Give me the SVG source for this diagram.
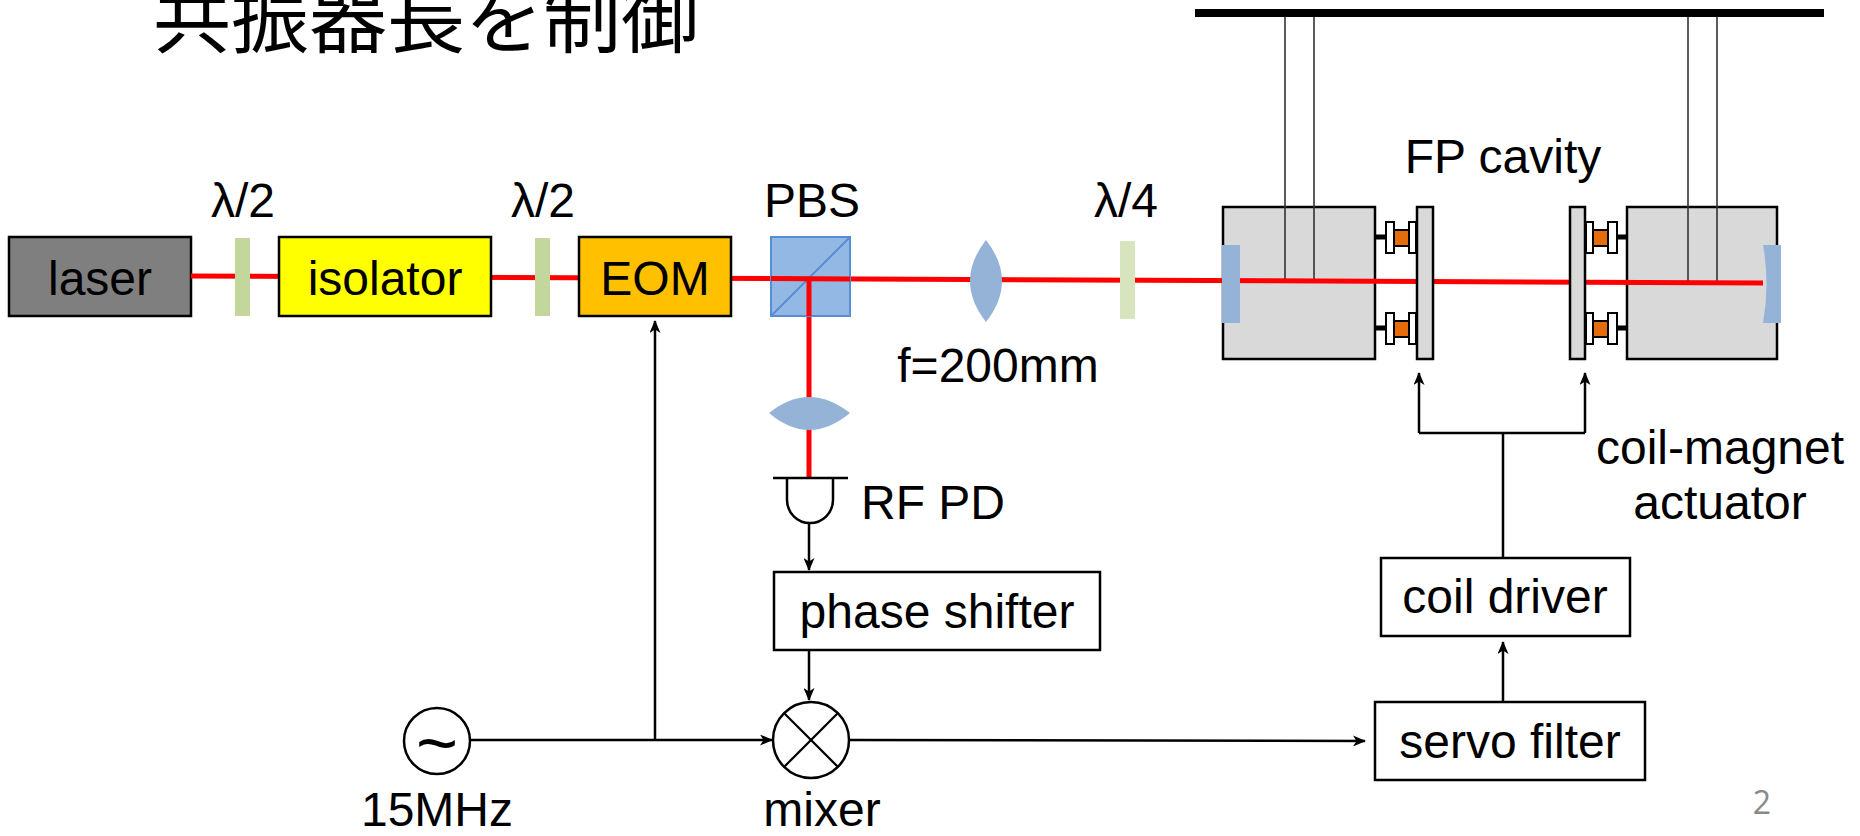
<svg xmlns="http://www.w3.org/2000/svg" width="1860" height="836" viewBox="0 0 1860 836">
<defs>
<style>
.t{font-family:"Liberation Sans",Arial,sans-serif;font-size:48px;fill:#000}
.m{text-anchor:middle}
.box{stroke:#000;stroke-width:2.5}
.gray{fill:#d9d9d9;stroke:#000;stroke-width:2.5}
.wh{fill:#fff;stroke:#000;stroke-width:2}
.or{fill:#e46c0a;stroke:#000;stroke-width:2}
.stub{stroke:#000;stroke-width:5}
.wire{stroke:#333;stroke-width:1.6}
.beam{stroke:#ff0000;stroke-width:5;fill:none}
.optic{fill:#95b3d7}
.con{stroke:#000;stroke-width:2.5;fill:none}
</style>
<marker id="ah" viewBox="0 0 13 11" refX="12" refY="5.5" markerWidth="13" markerHeight="11" markerUnits="userSpaceOnUse" orient="auto">
<path d="M0,0 L13,5.5 L0,11 L3.5,5.5 Z" fill="#000"/>
</marker>
</defs>
<rect width="1860" height="836" fill="#fff"/>

<g id="title">
<text x="153" y="47" style="font-family:'Noto Sans CJK JP','Noto Sans CJK SC',sans-serif;font-size:78px;fill:#000">共振器長を制御</text>
</g>

<g id="suspension">
<rect x="1195" y="9" width="629" height="8" fill="#000"/>
</g>

<g id="cavity-blocks">
<rect class="gray" x="1223" y="207" width="152" height="152"/>
<rect class="gray" x="1627" y="207" width="150" height="152"/>
<line class="wire" x1="1285" y1="17" x2="1285" y2="280"/>
<line class="wire" x1="1314" y1="17" x2="1314" y2="280"/>
<line class="wire" x1="1688" y1="17" x2="1688" y2="282"/>
<line class="wire" x1="1717" y1="17" x2="1717" y2="282"/>
</g>

<g id="laser">
<rect class="box" x="9" y="237" width="182" height="79" fill="#7f7f7f"/>
<text class="t m" x="100" y="295">laser</text>
</g>

<g id="beam">
<line class="beam" x1="191" y1="276" x2="1763" y2="283"/>
<line class="beam" x1="809" y1="279" x2="809" y2="478"/>
</g>

<g id="hwp1">
<rect x="235" y="238" width="15" height="78" fill="#c3d69b"/>
<text class="t m" x="243" y="217">λ/2</text>
</g>

<g id="isolator">
<rect class="box" x="279" y="237" width="212" height="79" fill="#ffff00"/>
<text class="t m" x="385" y="295">isolator</text>
</g>

<g id="hwp2">
<rect x="535" y="238" width="15" height="78" fill="#c3d69b"/>
<text class="t m" x="543" y="217">λ/2</text>
</g>

<g id="eom">
<rect class="box" x="579" y="237" width="152" height="79" fill="#ffc000"/>
<text class="t m" x="655" y="295">EOM</text>
</g>

<g id="pbs">
<rect x="771" y="237" width="79" height="79" fill="#8eb4e3" fill-opacity="0.95" stroke="#558ed5" stroke-width="2"/>
<line x1="771" y1="316" x2="850" y2="237" stroke="#558ed5" stroke-width="2"/>
<line class="beam" x1="771" y1="278.5" x2="850" y2="279"/>
<line class="beam" x1="809" y1="279" x2="809" y2="316"/>
<text class="t m" x="812" y="217">PBS</text>
</g>

<g id="lens1">
<path class="optic" d="M986,240 Q954,281 986,322 Q1018,281 986,240 Z"/>
<text class="t m" x="998" y="382">f=200mm</text>
</g>

<g id="qwp">
<rect x="1120" y="241" width="15" height="78" fill="#d7e4bd"/>
<text class="t m" x="1126" y="217">λ/4</text>
</g>

<g id="fp-cavity">
<rect class="optic" x="1222" y="245" width="18" height="78"/>
<path class="optic" d="M1763,245 L1781,245 L1781,323 L1763,323 Q1770,284 1763,245 Z"/>
<rect class="gray" x="1417" y="207" width="16" height="152"/>
<rect class="gray" x="1570" y="207" width="15" height="152"/>
<text class="t m" x="1503" y="173">FP cavity</text>
</g>

<g id="actuators">
<line class="stub" x1="1375" y1="237" x2="1417" y2="237"/>
<rect class="wh" x="1386" y="222" width="8" height="31"/>
<rect class="or" x="1394" y="230" width="15" height="16"/>
<rect class="wh" x="1409" y="222" width="7" height="31"/>
<line class="stub" x1="1375" y1="328" x2="1417" y2="328"/>
<rect class="wh" x="1386" y="313" width="8" height="31"/>
<rect class="or" x="1394" y="321" width="15" height="16"/>
<rect class="wh" x="1409" y="313" width="7" height="31"/>
<line class="stub" x1="1585" y1="237" x2="1627" y2="237"/>
<rect class="wh" x="1586" y="222" width="7" height="31"/>
<rect class="or" x="1593" y="230" width="15" height="16"/>
<rect class="wh" x="1608" y="222" width="9" height="31"/>
<line class="stub" x1="1585" y1="328" x2="1627" y2="328"/>
<rect class="wh" x="1586" y="313" width="7" height="31"/>
<rect class="or" x="1593" y="321" width="15" height="16"/>
<rect class="wh" x="1608" y="313" width="9" height="31"/>
<text class="t m" x="1720" y="464">coil-magnet</text>
<text class="t m" x="1720" y="519">actuator</text>
</g>

<g id="lens2">
<path class="optic" d="M769,413 Q809,381 850,413 Q809,447 769,413 Z"/>
</g>

<g id="rfpd">
<line x1="773" y1="478" x2="848" y2="478" stroke="#000" stroke-width="2.5"/>
<path d="M787,478 L787,500 A23,23 0 0 0 833,500 L833,478" fill="none" stroke="#000" stroke-width="2.5"/>
<text class="t" x="861" y="519">RF PD</text>
</g>

<g id="phase-shifter">
<rect class="box" x="774" y="572" width="326" height="78" fill="#fff"/>
<text class="t m" x="937" y="628">phase shifter</text>
</g>

<g id="oscillator">
<circle cx="437" cy="741" r="33" fill="#fff" stroke="#000" stroke-width="2.5"/>
<text x="437" y="768" text-anchor="middle" style="font-family:'Liberation Sans',Arial,sans-serif;font-size:72px">~</text>
<text class="t m" x="437" y="826">15MHz</text>
</g>

<g id="mixer">
<circle cx="811" cy="740" r="38" fill="#fff" stroke="#000" stroke-width="2.5"/>
<line x1="784" y1="713" x2="838" y2="767" stroke="#000" stroke-width="2.2"/>
<line x1="838" y1="713" x2="784" y2="767" stroke="#000" stroke-width="2.2"/>
<text class="t m" x="822" y="826">mixer</text>
</g>

<g id="servo-filter">
<rect class="box" x="1375" y="702" width="270" height="78" fill="#fff"/>
<text class="t m" x="1510" y="758">servo filter</text>
</g>

<g id="coil-driver">
<rect class="box" x="1381" y="558" width="249" height="78" fill="#fff"/>
<text class="t m" x="1505" y="613">coil driver</text>
</g>

<g id="connectors">
<line class="con" x1="470" y1="740" x2="772" y2="740" marker-end="url(#ah)"/>
<line class="con" x1="655" y1="740" x2="655" y2="321" marker-end="url(#ah)"/>
<line class="con" x1="809" y1="523" x2="809" y2="570" marker-end="url(#ah)"/>
<line class="con" x1="809" y1="650" x2="809" y2="700" marker-end="url(#ah)"/>
<line class="con" x1="849" y1="740" x2="1365" y2="741" marker-end="url(#ah)"/>
<line class="con" x1="1503" y1="702" x2="1503" y2="642" marker-end="url(#ah)"/>
<polyline class="con" points="1503,558 1503,433"/>
<polyline class="con" points="1419,433 1585,433"/>
<line class="con" x1="1419" y1="433" x2="1419" y2="373" marker-end="url(#ah)"/>
<line class="con" x1="1585" y1="433" x2="1585" y2="373" marker-end="url(#ah)"/>
</g>

<g id="page-number">
<text x="1762" y="814" text-anchor="middle" style="font-family:'Open Sans','Liberation Sans',sans-serif;font-size:32px;fill:#898989">2</text>
</g>
</svg>
